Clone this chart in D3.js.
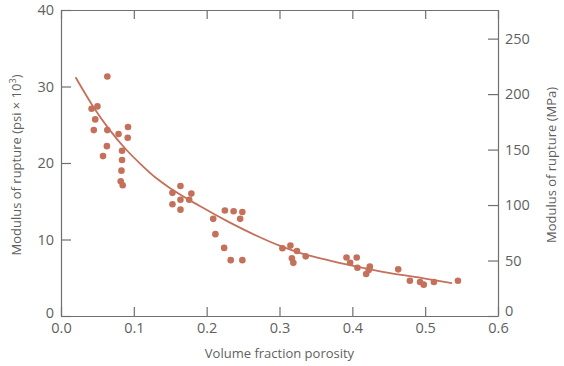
<!DOCTYPE html>
<html>
<head>
<meta charset="utf-8">
<script src="https://cdn.jsdelivr.net/npm/d3@7"></script>
<style>
  body { margin: 0; background: #fff; }
  svg text { font-family: "Open Sans", "Liberation Sans", sans-serif; fill: #5f5f5f; }
</style>
</head>
<body>
<div id="chart"></div>
<script>
// measured points: porosity (volume fraction) vs modulus of rupture (ksi)
const porosity = [
  0.0636, 0.042, 0.050, 0.047, 0.045, 0.0636, 0.079, 0.092, 0.0916, 0.063,
  0.0577, 0.0838, 0.0838, 0.083, 0.082, 0.0847,
  0.164, 0.153, 0.179, 0.164, 0.176, 0.153, 0.164,
  0.225, 0.237, 0.249, 0.209, 0.246, 0.212, 0.224, 0.233, 0.249,
  0.304, 0.315, 0.324, 0.317, 0.319, 0.336,
  0.392, 0.406, 0.397, 0.407, 0.424, 0.4225, 0.419,
  0.463, 0.479, 0.493, 0.498, 0.512, 0.545
];
const strengthKsi = [
  31.3, 27.1, 27.4, 25.7, 24.3, 24.3, 23.8, 24.7, 23.3, 22.2,
  20.9, 21.6, 20.4, 19.0, 17.6, 17.1,
  17.0, 16.1, 16.0, 15.2, 15.2, 14.6, 13.9,
  13.8, 13.7, 13.6, 12.7, 12.7, 10.7, 8.9, 7.3, 7.3,
  8.85, 9.2, 8.5, 7.55, 6.95, 7.8,
  7.65, 7.65, 6.95, 6.3, 6.45, 6.0, 5.5,
  6.1, 4.6, 4.45, 4.1, 4.45, 4.6
];

// fitted curve
const fitPorosity = [0.02, 0.044, 0.067, 0.09, 0.11, 0.131, 0.15, 0.19, 0.23, 0.273, 0.3, 0.33, 0.369, 0.4, 0.45, 0.5, 0.537];
const fitKsi      = [31.2, 27.4, 24.3, 21.7, 19.8, 18.0, 16.7, 14.4, 12.3, 10.3, 9.2, 8.2, 7.25, 6.6, 5.65, 4.9, 4.3];

const xTicks = [0, 0.1, 0.2, 0.3, 0.4, 0.5, 0.6];
const ksiTicks = [0, 10, 20, 30, 40];
const mpaTicks = [0, 50, 100, 150, 200, 250];

const width = 564, height = 366;
const margin = { top: 10, right: 66, bottom: 50, left: 61 };
const dotColor = "#c4705a";
const axisColor = "#707070";

const svg = d3.select("#chart").append("svg")
  .attr("width", width)
  .attr("height", height);

const x = d3.scaleLinear().domain([0, 0.6]).range([margin.left, width - margin.right]);
const y = d3.scaleLinear().domain([0, 40]).range([height - margin.bottom, margin.top]);
// 1 ksi = 6.895 MPa
const yMpa = d3.scaleLinear().domain([0, 40 * 6.895]).range(y.range());

function styleAxis(g) {
  g.selectAll("path, line").attr("stroke", axisColor).attr("stroke-width", 1.2);
  g.selectAll("text").attr("fill", "#606060").style("font-size", "14.5px")
    .style("font-family", '"Open Sans", "Liberation Sans", sans-serif');
}

svg.append("g")
  .attr("transform", `translate(0,${y(0)})`)
  .call(d3.axisBottom(x).tickValues(xTicks).tickFormat(d3.format(".1f"))
    .tickSizeInner(-9).tickSizeOuter(0).tickPadding(7))
  .call(styleAxis);

svg.append("g")
  .attr("transform", `translate(0,${y(40)})`)
  .call(d3.axisTop(x).tickValues(xTicks).tickFormat("")
    .tickSizeInner(-9).tickSizeOuter(0))
  .call(styleAxis);

const leftAxis = svg.append("g")
  .attr("transform", `translate(${x(0)},0)`)
  .call(d3.axisLeft(y).tickValues(ksiTicks).tickFormat(d3.format("d"))
    .tickSizeInner(-10).tickSizeOuter(0).tickPadding(7))
  .call(styleAxis);

const rightAxis = svg.append("g")
  .attr("transform", `translate(${x(0.6)},0)`)
  .call(d3.axisRight(yMpa).tickValues(mpaTicks).tickFormat(d3.format("d"))
    .tickSizeInner(-10).tickSizeOuter(0).tickPadding(7))
  .call(styleAxis);

// lift the corner zeros a little so they clear the x labels
leftAxis.selectAll(".tick text").filter(d => d === 0).attr("y", -3);
rightAxis.selectAll(".tick text").filter(d => d === 0).attr("y", -5);

// fit curve
const fit = fitPorosity.map((p, i) => [p, fitKsi[i]]);
svg.append("path")
  .datum(fit)
  .attr("fill", "none")
  .attr("stroke", dotColor)
  .attr("stroke-width", 1.8)
  .attr("d", d3.line().x(d => x(d[0])).y(d => y(d[1])).curve(d3.curveMonotoneX));

// data points
svg.append("g")
  .selectAll("circle")
  .data(porosity.map((p, i) => [p, strengthKsi[i]]))
  .join("circle")
  .attr("cx", d => x(d[0]))
  .attr("cy", d => y(d[1]))
  .attr("r", 3.3)
  .attr("fill", dotColor);

// titles
svg.append("text")
  .attr("x", x(0.3))
  .attr("y", 358)
  .attr("text-anchor", "middle")
  .style("font-size", "13px")
  .text("Volume fraction porosity");

const leftTitle = svg.append("text")
  .attr("transform", `translate(21,${y(20) + 2}) rotate(-90)`)
  .attr("text-anchor", "middle")
  .style("font-size", "13px");
leftTitle.append("tspan").text("Modulus of rupture (psi \u00d7 10");
leftTitle.append("tspan").attr("dy", -5).style("font-size", "9px").text("3");
leftTitle.append("tspan").attr("dy", 5).text(")");

svg.append("text")
  .attr("transform", `translate(556,${y(20) + 2}) rotate(-90)`)
  .attr("text-anchor", "middle")
  .style("font-size", "13px")
  .text("Modulus of rupture (MPa)");
</script>
</body>
</html>
